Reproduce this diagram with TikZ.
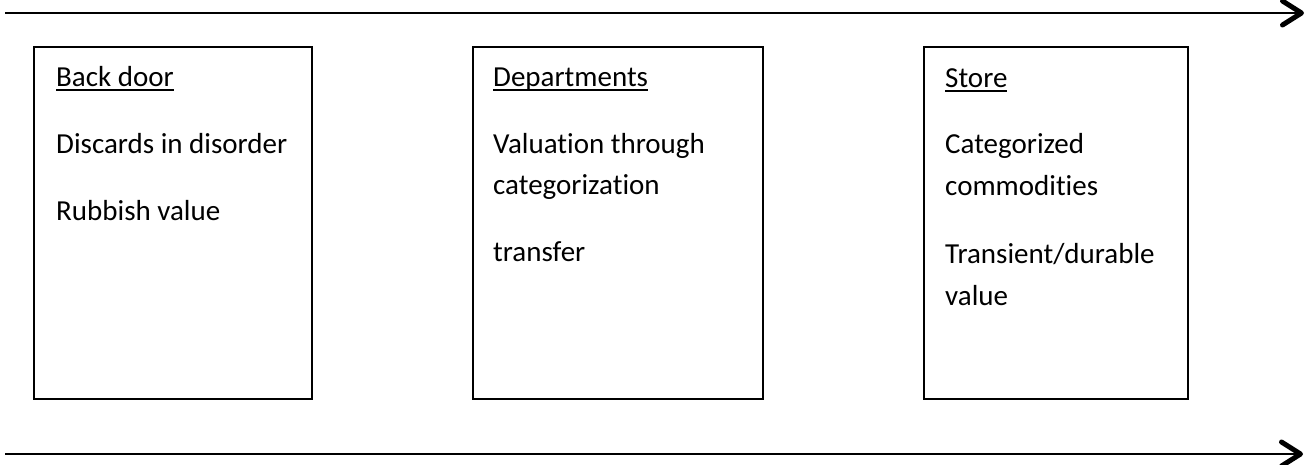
\documentclass[tikz,border=0pt]{standalone}
\usepackage{fontspec}
\setmainfont[Ligatures={NoCommon}]{Carlito}
\usetikzlibrary{arrows.meta}
\newcommand\myul[1]{\leavevmode\setbox0\hbox{#1}\rlap{\rule[-4.5pt]{\wd0}{1.4pt}}\box0}
\begin{document}
\begin{tikzpicture}[x=1pt,y=-1pt,
  panel/.style={draw=black,line width=2pt},
  txt/.style={anchor=base west,inner sep=0pt,font=\fontsize{29}{34}\selectfont},
  flow/.style={line width=2.6pt,-{Straight Barb[length=19pt,width=24pt,line width=5pt,round]}}]
\useasboundingbox (0,0) rectangle (1313,464);
% arrows
\coordinate (t0) at (5,13);
\coordinate (t1) at (1304,13);
\coordinate (b0) at (5,454);
\coordinate (b1) at (1303,454);
\draw[flow] (t0) -- (t1);
\draw[flow] (b0) -- (b1);
% boxes
\draw[panel] (34,47) rectangle (312,399);
\draw[panel] (473,47) rectangle (763,399);
\draw[panel] (924,47) rectangle (1188,399);
% box 1
\node[txt] (a1) at (56,86) {\myul{Back door}};
\node[txt] (a2) at (56,153) {Discards in disorder};
\node[txt] (a3) at (56,220) {Rubbish value};
% box 2
\node[txt] (b1t) at (493,86) {\myul{Departments}};
\node[txt] (b2t) at (493,153) {Valuation through};
\node[txt] (b3t) at (493,194) {categorization};
\node[txt] (b4t) at (493,261) {transfer};
% box 3
\node[txt] (c1) at (945,87) {\myul{Store}};
\node[txt] (c2) at (945,153) {Categorized};
\node[txt] (c3) at (945,195) {commodities};
\node[txt] (c4) at (945,263) {Transient/durable};
\node[txt] (c5) at (945,305) {value};
\end{tikzpicture}
\end{document}
